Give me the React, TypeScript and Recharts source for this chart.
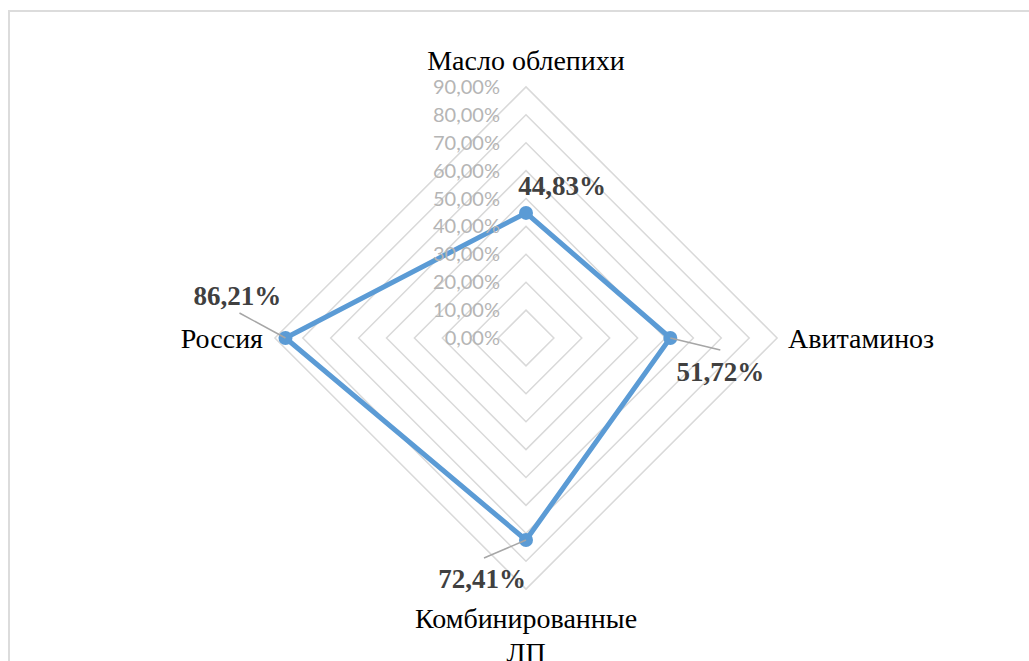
import React from 'react';
import { RadarChart, Radar, PolarGrid, PolarAngleAxis, PolarRadiusAxis } from 'recharts';

const categories = ['Масло облепихи', 'Авитаминоз', 'Комбинированные ЛП', 'Россия'];
const shares = [0.4483, 0.5172, 0.7241, 0.8621];
const radiusTicks = [0, 0.1, 0.2, 0.3, 0.4, 0.5, 0.6, 0.7, 0.8, 0.9];

const data = categories.map((name, i) => ({ name, value: shares[i] }));

const pct = (v: number) => (v * 100).toFixed(2).replace('.', ',') + '%';

const SERIF = '"Liberation Serif", "Times New Roman", serif';
const BLUE = '#5b9bd5';

// the radius axis runs to 100%, only the rings up to 90% are drawn
function AngleTick(props: any) {
  const { x, y, payload, index } = props;
  const style = { fontFamily: SERIF, fontSize: 28, fill: '#000' };
  if (index === 0) {
    return <text x={x} y={y + 19} textAnchor="middle" style={style}>{payload.value}</text>;
  }
  if (index === 1) {
    return <text x={x - 25} y={y + 10} textAnchor="start" style={style}>{payload.value}</text>;
  }
  if (index === 3) {
    return <text x={x + 24} y={y + 10} textAnchor="end" style={style}>{payload.value}</text>;
  }
  // bottom label wraps onto two lines
  return (
    <text x={x} y={y + 3} textAnchor="middle" style={style}>
      <tspan x={x}>Комбинированные</tspan>
      <tspan x={x} dy={34}>ЛП</tspan>
    </text>
  );
}

function RadiusTick(props: any) {
  const { x, y, payload } = props;
  return (
    <text x={x - 26} y={y} dy="0.35em" textAnchor="end"
      style={{ fontFamily: 'Lato, "Open Sans", sans-serif', fontSize: 20, fill: '#b5b5b5' }}>
      {pct(payload.value)}
    </text>
  );
}

function Marker(props: any) {
  const { cx, cy } = props;
  if (cx == null || cy == null) return null;
  return <circle cx={cx} cy={cy} r={7} fill={BLUE} />;
}

// label offsets (text centre from point) and leader line ends, per category
const labelShift = [
  { dx: 36, dy: -27, lead: null },
  { dx: 50, dy: 34, lead: [50, 12] },
  { dx: -44, dy: 39, lead: [-42, 18] },
  { dx: -48, dy: -42, lead: [-46, -25] },
];

function DataLabel(props: any) {
  const { x, y, value, index } = props;
  const s = labelShift[index];
  if (!s) return null;
  return (
    <g>
      {s.lead && (
        <line x1={x} y1={y} x2={x + s.lead[0]} y2={y + s.lead[1]} stroke="#a6a6a6" strokeWidth={1.5} />
      )}
      <text x={x + s.dx} y={y + s.dy} dy="0.35em" textAnchor="middle"
        style={{ fontFamily: SERIF, fontSize: 27, fontWeight: 'bold', fill: '#404040' }}>
        {pct(value)}
      </text>
    </g>
  );
}

export default function App() {
  return (
    <div style={{ position: 'fixed', left: 0, top: 0, width: 1029, height: 661, overflow: 'hidden', background: '#fff' }}>
      <div style={{ position: 'absolute', left: 8, top: 10, width: 1100, height: 800, border: '2px solid #dcdcdc' }} />
      <div style={{ position: 'absolute', left: 0, top: 0 }}>
        <RadarChart width={1029} height={661} data={data} cx={526} cy={338} outerRadius={279}
          startAngle={90} endAngle={-270}>
          <PolarGrid gridType="polygon" radialLines={false} stroke="#d9d9d9" strokeWidth={1.5} />
          <PolarAngleAxis dataKey="name" tick={<AngleTick />} tickLine={false} axisLine={false} />
          <PolarRadiusAxis angle={90} type="number" domain={[0, 1]}
            ticks={radiusTicks as any} tick={<RadiusTick />} axisLine={false} tickLine={false} />
          <Radar dataKey="value" stroke={BLUE} strokeWidth={5} fill="none" fillOpacity={0}
            dot={<Marker />} label={<DataLabel />} isAnimationActive={false} />
        </RadarChart>
      </div>
    </div>
  );
}
